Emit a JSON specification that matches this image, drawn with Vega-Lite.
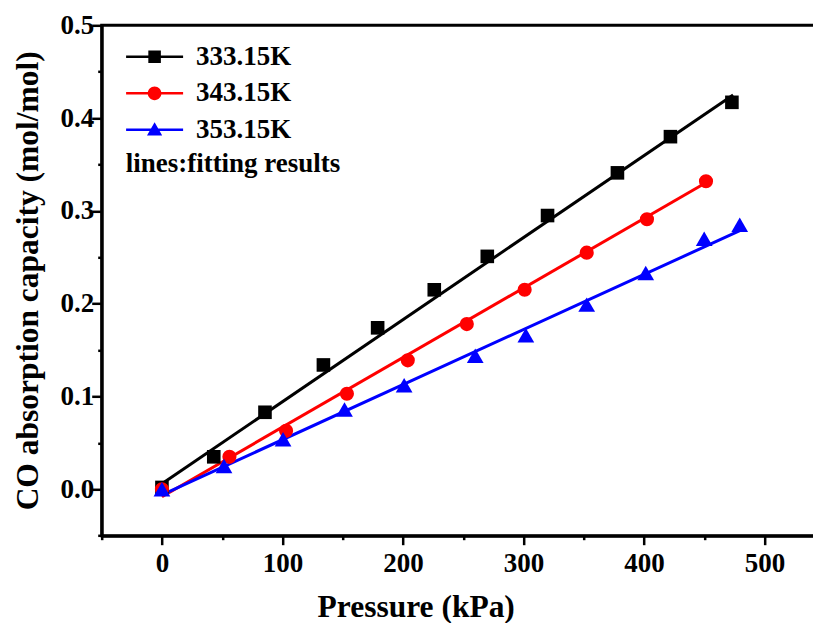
{
  "$schema": "https://vega.github.io/schema/vega-lite/v6.json",
  "autosize": "none",
  "padding": {"left": 101.7, "top": 25.3, "right": 0, "bottom": 87.3},
  "width": 713,
  "height": 510.4,
  "background": "white",
  "config": {
    "view": {"stroke": "black", "strokeWidth": 3},
    "axis": {
      "grid": false,
      "domainColor": "black",
      "domainWidth": 3,
      "tickColor": "black",
      "tickWidth": 2.5,
      "labelFont": "Liberation Serif",
      "labelFontWeight": "bold",
      "labelFontSize": 27,
      "labelColor": "black",
      "titleFont": "Liberation Serif",
      "titleFontWeight": "bold",
      "titleFontSize": 31.5,
      "titleColor": "black"
    }
  },
  "data": {
    "values": [
      {"T": "333.15K", "kind": "exp", "P": 0, "q": 0.002},
      {"T": "333.15K", "kind": "exp", "P": 43, "q": 0.035},
      {"T": "333.15K", "kind": "exp", "P": 85.5, "q": 0.083},
      {"T": "333.15K", "kind": "exp", "P": 134, "q": 0.134},
      {"T": "333.15K", "kind": "exp", "P": 179, "q": 0.174},
      {"T": "333.15K", "kind": "exp", "P": 226, "q": 0.215},
      {"T": "333.15K", "kind": "exp", "P": 270, "q": 0.251},
      {"T": "333.15K", "kind": "exp", "P": 320, "q": 0.295},
      {"T": "333.15K", "kind": "exp", "P": 378, "q": 0.341},
      {"T": "333.15K", "kind": "exp", "P": 422, "q": 0.380},
      {"T": "333.15K", "kind": "exp", "P": 473, "q": 0.417},
      {"T": "343.15K", "kind": "exp", "P": 0, "q": 0.0},
      {"T": "343.15K", "kind": "exp", "P": 56, "q": 0.035},
      {"T": "343.15K", "kind": "exp", "P": 103, "q": 0.063},
      {"T": "343.15K", "kind": "exp", "P": 153.5, "q": 0.103},
      {"T": "343.15K", "kind": "exp", "P": 204, "q": 0.139},
      {"T": "343.15K", "kind": "exp", "P": 253, "q": 0.178},
      {"T": "343.15K", "kind": "exp", "P": 301, "q": 0.215},
      {"T": "343.15K", "kind": "exp", "P": 352.5, "q": 0.255},
      {"T": "343.15K", "kind": "exp", "P": 402.5, "q": 0.291},
      {"T": "343.15K", "kind": "exp", "P": 451.5, "q": 0.332},
      {"T": "353.15K", "kind": "exp", "P": 0, "q": 0.0},
      {"T": "353.15K", "kind": "exp", "P": 51.5, "q": 0.025},
      {"T": "353.15K", "kind": "exp", "P": 100.5, "q": 0.054},
      {"T": "353.15K", "kind": "exp", "P": 151.5, "q": 0.086},
      {"T": "353.15K", "kind": "exp", "P": 201, "q": 0.112},
      {"T": "353.15K", "kind": "exp", "P": 260, "q": 0.144},
      {"T": "353.15K", "kind": "exp", "P": 302, "q": 0.166},
      {"T": "353.15K", "kind": "exp", "P": 352.5, "q": 0.199},
      {"T": "353.15K", "kind": "exp", "P": 401.5, "q": 0.233},
      {"T": "353.15K", "kind": "exp", "P": 450, "q": 0.270},
      {"T": "353.15K", "kind": "exp", "P": 479.5, "q": 0.285},
      {"T": "333.15K", "kind": "fit", "P": 0, "q": 0.006},
      {"T": "333.15K", "kind": "fit", "P": 474, "q": 0.425},
      {"T": "343.15K", "kind": "fit", "P": 0, "q": -0.008},
      {"T": "343.15K", "kind": "fit", "P": 451, "q": 0.330},
      {"T": "353.15K", "kind": "fit", "P": 0, "q": -0.006},
      {"T": "353.15K", "kind": "fit", "P": 480, "q": 0.279}
    ]
  },
  "encoding": {
    "x": {
      "field": "P",
      "type": "quantitative",
      "scale": {"domain": [-50, 541.7], "nice": false, "zero": false},
      "axis": {
        "title": "Pressure (kPa)",
        "values": [-50, 0, 50, 100, 150, 200, 250, 300, 350, 400, 450, 500],
        "format": "d",
        "labelExpr": "datum.value % 100 === 0 ? datum.label : ''",
        "tickSize": {"condition": {"test": "datum.value % 100 === 0", "value": 9}, "value": 4},
        "labelPadding": 6,
        "titleX": 314,
        "titleY": 81,
        "titleBaseline": "alphabetic",
        "titleAlign": "center"
      }
    },
    "y": {
      "field": "q",
      "type": "quantitative",
      "scale": {"domain": [-0.05, 0.5], "nice": false, "zero": false},
      "axis": {
        "title": "CO absorption capacity (mol/mol)",
        "values": [-0.05, 0, 0.05, 0.1, 0.15, 0.2, 0.25, 0.3, 0.35, 0.4, 0.45, 0.5],
        "labelExpr": "abs(round(datum.value * 10) - datum.value * 10) < 0.000001 ? format(datum.value, '.1f') : ''",
        "tickSize": {"condition": {"test": "abs(round(datum.value * 10) - datum.value * 10) < 0.000001", "value": 10}, "value": 4},
        "labelPadding": -2,
        "titleX": -64,
        "titleY": 255,
        "titleAngle": -90,
        "titleBaseline": "alphabetic",
        "titleAlign": "center"
      }
    }
  },
  "layer": [
    {
      "transform": [{"filter": "datum.kind === 'fit'"}],
      "mark": {"type": "line", "strokeWidth": 3},
      "encoding": {
        "color": {
          "field": "T",
          "type": "nominal",
          "scale": {"domain": ["333.15K", "343.15K", "353.15K"], "range": ["#000000", "#ff0000", "#0000ff"]},
          "legend": {
            "orient": "none",
            "legendX": 24,
            "legendY": 18,
            "padding": 0,
            "symbolSize": 361,
            "symbolOffset": 15.4,
            "labelOffset": 28,
            "labelFont": "Liberation Serif",
            "labelFontWeight": "bold",
            "labelFontSize": 27,
            "labelColor": "black",
            "labelLimit": 300,
            "rowPadding": 8.5,
            "title": "lines:fitting results",
            "titleOrient": "bottom",
            "titleAnchor": "start",
            "titleLimit": 400,
            "titleFont": "Liberation Serif",
            "titleFontWeight": "bold",
            "titleFontSize": 27,
            "titleColor": "black",
            "titlePadding": 8,
            "encode": {
              "symbols": {
                "update": {
                  "shape": {"signal": "datum.value === '333.15K' ? 'M-3,-0.13L3,-0.13L3,0.13L-3,0.13Z M-0.66,-0.66L0.66,-0.66L0.66,0.66L-0.66,0.66Z' : datum.value === '343.15K' ? 'M-3,-0.13L3,-0.13L3,0.13L-3,0.13Z M-0.72,0A0.72,0.72 0 1,1 0.72,0A0.72,0.72 0 1,1 -0.72,0Z' : 'M-3,-0.13L3,-0.13L3,0.13L-3,0.13Z M0,-0.8L0.8,0.6L-0.8,0.6Z'"},
                  "fill": {"signal": "datum.value === '333.15K' ? '#000000' : datum.value === '343.15K' ? '#ff0000' : '#0000ff'"},
                  "stroke": {"value": "transparent"},
                  "strokeWidth": {"value": 0},
                  "opacity": {"value": 1},
                  "fillOpacity": {"value": 1}
                }
              }
            }
          }
        }
      }
    },
    {
      "transform": [{"filter": "datum.kind === 'exp' && datum.T === '333.15K'"}],
      "mark": {"type": "point", "shape": "square", "filled": true, "color": "#000000", "opacity": 1, "size": 185, "strokeWidth": 0}
    },
    {
      "transform": [{"filter": "datum.kind === 'exp' && datum.T === '343.15K'"}],
      "mark": {"type": "point", "shape": "circle", "filled": true, "color": "#ff0000", "opacity": 1, "size": 200, "strokeWidth": 0}
    },
    {
      "transform": [{"filter": "datum.kind === 'exp' && datum.T === '353.15K'"}],
      "mark": {"type": "point", "shape": "triangle-up", "filled": true, "color": "#0000ff", "opacity": 1, "size": 280, "strokeWidth": 0}
    }
  ]
}
